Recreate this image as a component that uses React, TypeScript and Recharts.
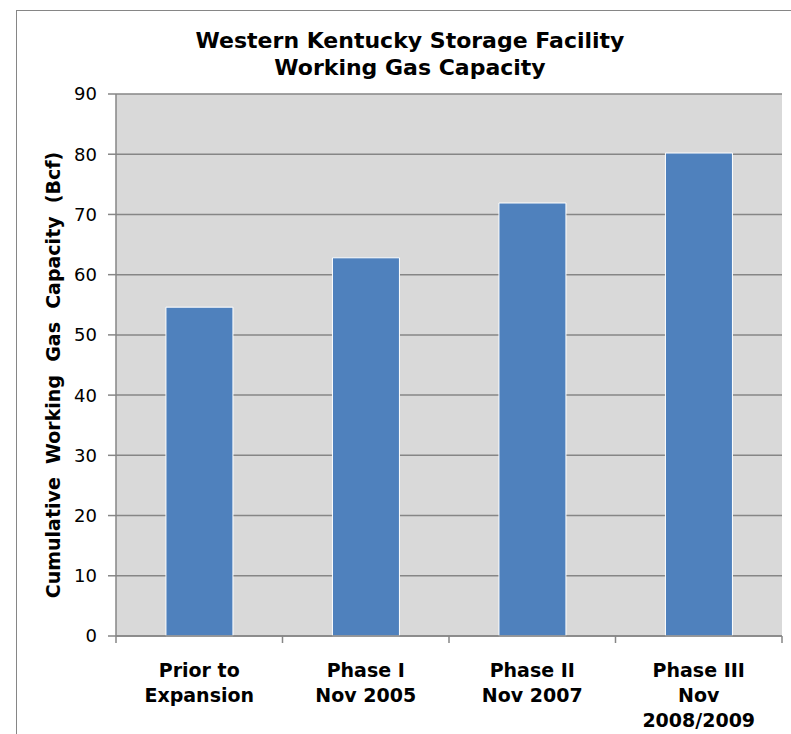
import React from "react";
import { BarChart, Bar, XAxis, YAxis, CartesianGrid, Label } from "recharts";

// Cumulative working gas capacity by expansion phase (Bcf)
const phases = ["Prior to\nExpansion", "Phase I\nNov 2005", "Phase II\nNov 2007", "Phase III\nNov\n2008/2009"];
const capacityBcf = [54.6, 62.8, 71.9, 80.2];
const yTicks = [0, 10, 20, 30, 40, 50, 60, 70, 80, 90];

const titleLines = ["Western Kentucky Storage Facility", "Working Gas Capacity"];
const yAxisTitle = "Cumulative  Working  Gas  Capacity  (Bcf)";

const data = phases.map((phase, i) => ({ phase, capacity: capacityBcf[i] }));

const FONT = "'DejaVu Sans', Verdana, sans-serif";
const AXIS_GRAY = "#868686";

const W = 791;
const H = 734;
const MARGIN = { top: 94, right: 9, left: 0, bottom: 0 };
const Y_AXIS_W = 116;
const X_AXIS_H = 98;
const PLOT_W = W - MARGIN.left - MARGIN.right - Y_AXIS_W;
const BAND = PLOT_W / phases.length;

function PhaseTick(props: any) {
  const { x, y, payload, index } = props;
  const lines = String(payload.value).split("\n");
  const left = x - BAND / 2;
  const right = x + BAND / 2;
  return (
    <g>
      <line x1={left} y1={y} x2={left} y2={y + 7} stroke={AXIS_GRAY} strokeWidth={1.5} />
      {index === phases.length - 1 && (
        <line x1={right} y1={y} x2={right} y2={y + 7} stroke={AXIS_GRAY} strokeWidth={1.5} />
      )}
      <text
        x={x}
        y={y}
        textAnchor="middle"
        fontFamily={FONT}
        fontWeight="bold"
        fontSize={19}
        fill="#000"
      >
        {lines.map((ln, i) => (
          <tspan key={i} x={x} y={y + 41 + i * 25}>
            {ln}
          </tspan>
        ))}
      </text>
    </g>
  );
}

function YTitle(props: any) {
  const { viewBox } = props;
  const cx = 53;
  const cy = viewBox.y + viewBox.height / 2 + 10;
  return (
    <text
      x={cx}
      y={cy}
      transform={`rotate(-90 ${cx} ${cy})`}
      textAnchor="middle"
      dominantBaseline="central"
      fontFamily={FONT}
      fontWeight="bold"
      fontSize={19}
      fill="#000"
      style={{ whiteSpace: "pre" }}
    >
      {yAxisTitle}
    </text>
  );
}

export default function App() {
  return (
    <div style={{ position: "absolute", left: 0, top: 0, width: W, height: H, overflow: "hidden", background: "#fff" }}>
      <div
        style={{
          position: "absolute",
          left: 16,
          top: 10,
          width: 820,
          height: 800,
          border: `1.5px solid ${AXIS_GRAY}`,
          boxSizing: "border-box",
        }}
      />
      <div
        style={{
          position: "absolute",
          left: 0,
          top: 27,
          width: 820,
          textAlign: "center",
          fontFamily: FONT,
          fontWeight: "bold",
          fontSize: 22,
          lineHeight: "27px",
          color: "#000",
        }}
      >
        {titleLines.map((t, i) => (
          <div key={i}>{t}</div>
        ))}
      </div>
      <div style={{ position: "absolute", left: 0, top: 0 }}>
        <BarChart width={W} height={H} data={data} margin={MARGIN} barCategoryGap="30%">
          <CartesianGrid vertical={false} fill="#D9D9D9" stroke={AXIS_GRAY} strokeWidth={1.5} />
          <XAxis
            dataKey="phase"
            height={X_AXIS_H}
            interval={0}
            tickLine={false}
            tickSize={0}
            tickMargin={0}
            axisLine={{ stroke: AXIS_GRAY, strokeWidth: 1.5 }}
            tick={<PhaseTick />}
          />
          <YAxis
            width={Y_AXIS_W}
            domain={[0, 90]}
            ticks={yTicks}
            interval={0}
            tickSize={8}
            tickMargin={11}
            axisLine={{ stroke: AXIS_GRAY, strokeWidth: 1.5 }}
            tickLine={{ stroke: AXIS_GRAY, strokeWidth: 1.5 }}
            tick={{ fontFamily: FONT, fontSize: 18, fill: "#000" }}
          >
            <Label content={<YTitle />} />
          </YAxis>
          <Bar dataKey="capacity" fill="#4F81BD" stroke="#FFFFFF" strokeWidth={1} isAnimationActive={false} />
        </BarChart>
      </div>
    </div>
  );
}
